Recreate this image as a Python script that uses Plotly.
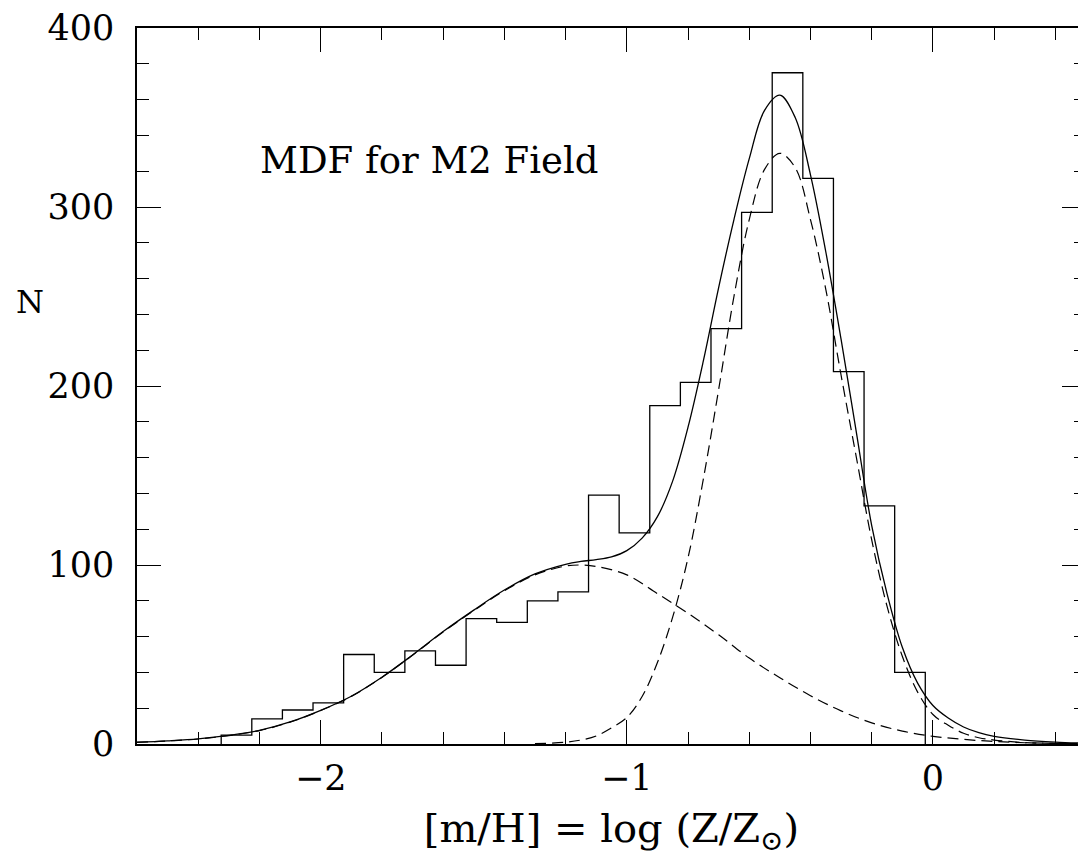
import plotly.graph_objects as go

# ---- histogram (bin width 0.1 dex) ----
bin_centers = [-2.275, -2.175, -2.075, -1.975, -1.875, -1.775, -1.675, -1.575,
               -1.475, -1.375, -1.275, -1.175, -1.075, -0.975, -0.875, -0.775,
               -0.675, -0.575, -0.475, -0.375, -0.275, -0.175, -0.075]
counts = [5, 14, 19, 23, 50, 40, 52, 44, 70, 68, 80, 85, 139, 118, 189, 202,
          232, 297, 375, 316, 208, 133, 40]
bin_width = 0.1

# ---- total fit (solid) ----
total_x = [-2.6, -2.5, -2.4, -2.3, -2.2, -2.1, -2.0, -1.9, -1.8, -1.7, -1.6, -1.5,
           -1.4, -1.3, -1.2, -1.15, -1.1, -1.05, -1.0, -0.95, -0.9, -0.85, -0.8,
           -0.75, -0.7, -0.65, -0.6, -0.55, -0.5, -0.45, -0.4, -0.35, -0.3, -0.25,
           -0.2, -0.15, -0.1, -0.05, 0.0, 0.05, 0.1, 0.15, 0.2, 0.3, 0.4, 0.5]
total_y = [1.0, 1.8, 2.9, 4.8, 7.6, 12.3, 18.8, 26.7, 37.3, 49.7, 62.8, 74.8,
           86.0, 95.0, 100.4, 102.0, 103.0, 104.5, 108.0, 115.0, 127.0, 147.0, 177.0,
           214.0, 255.0, 293.0, 327.0, 354.0, 362.5, 350.0, 318.0, 275.0, 226.0, 174.0,
           122.0, 84.0, 54.0, 34.0, 21.5, 14.5, 9.5, 6.3, 4.3, 2.2, 1.1, 0.5]

# ---- metal-poor component (dashed) ----
comp1_x = [-2.6, -2.5, -2.4, -2.3, -2.2, -2.1, -2.0, -1.9, -1.8, -1.7, -1.6, -1.5,
           -1.4, -1.3, -1.2, -1.15, -1.1, -1.0, -0.9, -0.8, -0.7, -0.6, -0.5, -0.4,
           -0.3, -0.2, -0.1, 0.0, 0.1, 0.2, 0.3, 0.4, 0.5]
comp1_y = [0.9, 1.7, 2.8, 4.7, 7.5, 12.2, 18.7, 26.6, 37.2, 49.6, 62.6, 74.5,
           85.6, 94.5, 99.4, 100.0, 99.2, 94.5, 84.0, 73.0, 61.0, 48.0, 37.0, 27.0,
           18.5, 11.8, 7.2, 4.3, 2.6, 1.4, 0.7, 0.35, 0.17]

# ---- metal-rich component (dashed) ----
comp2_x = [-1.3, -1.2, -1.15, -1.1, -1.05, -1.0, -0.95, -0.9, -0.85, -0.8, -0.75,
           -0.7, -0.65, -0.6, -0.55, -0.5, -0.45, -0.4, -0.35, -0.3, -0.25, -0.2,
           -0.15, -0.1, -0.05, 0.0, 0.05, 0.1, 0.15, 0.2, 0.3, 0.4, 0.5]
comp2_y = [0.2, 1.0, 2.2, 4.5, 9.0, 14.8, 26.5, 45.5, 71.0, 104.0, 148.0,
           198.0, 250.0, 293.0, 321.0, 330.0, 322.0, 293.0, 254.0, 206.0, 160.0, 114.0,
           77.0, 49.0, 29.0, 16.5, 10.5, 6.0, 3.5, 2.2, 0.8, 0.3, 0.1]

x_ticks = [-2, -1, 0]
y_ticks = [0, 100, 200, 300, 400]

FONT = "DejaVu Serif"

# step outline of the histogram
edges = [c - bin_width / 2 for c in bin_centers] + [bin_centers[-1] + bin_width / 2]
step_x = [edges[0]] + edges
step_y = [0] + counts + [0]

fig = go.Figure()
fig.add_trace(go.Scatter(x=comp1_x, y=comp1_y, mode="lines",
                         line=dict(color="black", width=1.2, dash="11px,6px", shape="spline")))
fig.add_trace(go.Scatter(x=comp2_x, y=comp2_y, mode="lines",
                         line=dict(color="black", width=1.2, dash="11px,6px", shape="spline")))
fig.add_trace(go.Scatter(x=total_x, y=total_y, mode="lines",
                         line=dict(color="black", width=1.3, shape="spline")))
fig.add_trace(go.Scatter(x=step_x, y=step_y, mode="lines",
                         line=dict(color="black", width=1.3, shape="hv")))

axis_common = dict(
    showline=True, linecolor="black", linewidth=1.6, mirror="allticks",
    ticks="inside", ticklen=24, tickwidth=1.3, tickcolor="black",
    showgrid=False, zeroline=False, ticklabeloverflow="allow",
    tickfont=dict(family=FONT, size=35, color="black"),
)

# the page body adds an 8px offset; sizes/margins compensate for it
fig.update_layout(
    width=1080, height=849,
    margin=dict(l=129, r=0, t=14, b=113),
    paper_bgcolor="white", plot_bgcolor="white",
    showlegend=False,
    xaxis=dict(range=[-2.6, 0.5], tickvals=x_ticks, ticklabelstandoff=2,
               minor=dict(dtick=0.2, tick0=0, ticks="inside", ticklen=12,
                          tickwidth=1.3, tickcolor="black"),
               title=dict(text="[m/H] = log (Z/Z<sub>⊙</sub>)",
                          font=dict(family=FONT, size=40, color="black"), standoff=18),
               **axis_common),
    yaxis=dict(range=[0, 400], tickvals=y_ticks, ticklabelstandoff=14,
               minor=dict(dtick=20, tick0=0, ticks="inside", ticklen=12,
                          tickwidth=1.3, tickcolor="black"),
               **axis_common),
    annotations=[
        dict(text="N", xref="paper", yref="paper", x=-0.113, y=0.617,
             showarrow=False, font=dict(family=FONT, size=32, color="black"),
             xanchor="center", yanchor="middle"),
        dict(text="MDF for M2 Field", xref="x", yref="y", x=-2.205, y=326,
             showarrow=False, font=dict(family=FONT, size=37, color="black"),
             xanchor="left", yanchor="middle"),
    ],
)

fig.write_html("out.html")
